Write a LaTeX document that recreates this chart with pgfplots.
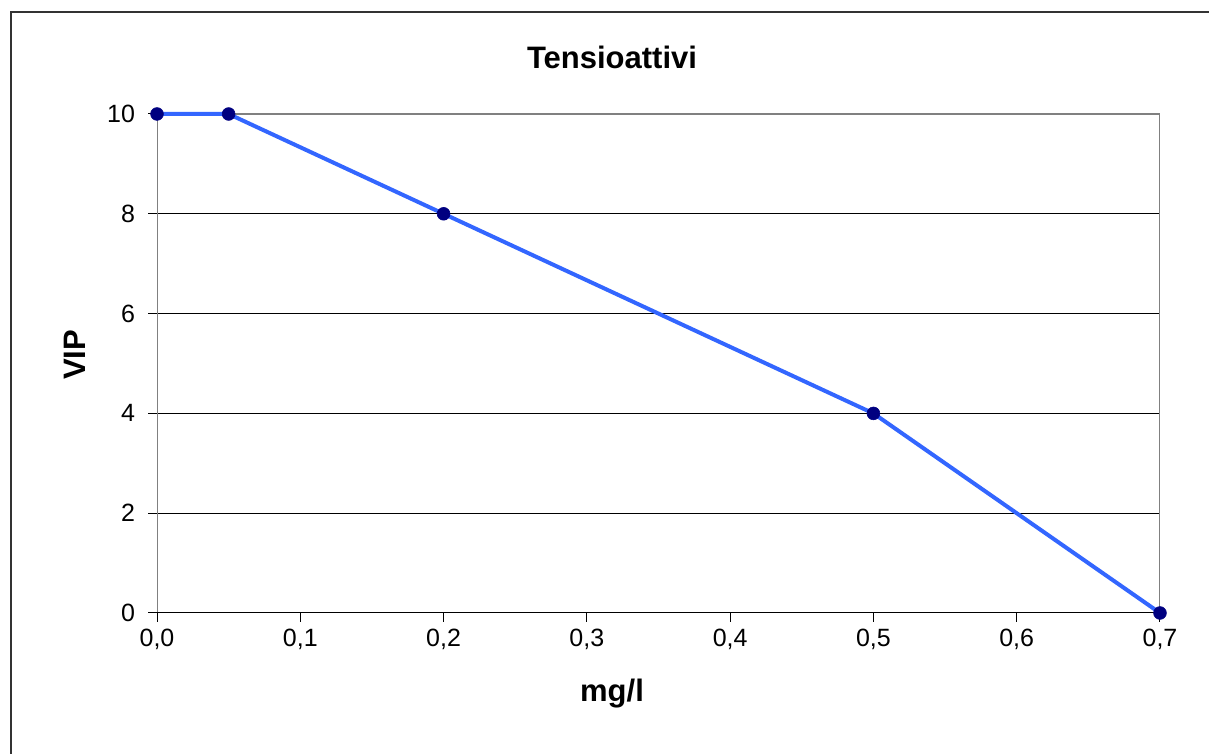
\documentclass[border=0pt]{standalone}
\usepackage{fontspec}
\setmainfont{Liberation Sans}
\usepackage{pgfplots}
\pgfplotsset{compat=1.18}
\definecolor{lineblue}{RGB}{51,102,255}
\definecolor{navy}{RGB}{0,0,128}
\definecolor{framegray}{RGB}{128,128,128}
\begin{document}
\begin{tikzpicture}
% chart area frame (cut off at right and bottom)
\draw[black!80, line width=0.75pt] (5.5pt,0) -- (5.5pt,371pt) -- (604.5pt,371pt);
\begin{axis}[
    set layers,
    at={(78.5pt,70.5pt)}, anchor=south west,
    scale only axis,
    width=501.5pt, height=249.5pt,
    xmin=0, xmax=0.7, ymin=0, ymax=10,
    axis x line*=bottom, axis y line*=left,
    xtick={0,0.1,0.2,0.3,0.4,0.5,0.6,0.7},
    ytick={0,2,4,6,8,10},
    xticklabel style={/pgf/number format/.cd, fixed, fixed zerofill, precision=1, use comma},
    yticklabel style={xshift=-3pt},
    /pgf/number format/assume math mode=true,
    ticklabel style={font=\fontsize{12.5}{14}\selectfont},
    tick align=outside,
    major tick length=4.5pt,
    ytick style={black, line width=0.5pt},
    xtick style={draw=none},
    axis line style={draw=none, -},
    ymajorgrids=true, xmajorgrids=false,
    y grid style={black, line width=0.5pt},
    clip=false,
]
\pgfplotsextra{%
\begin{pgfonlayer}{axis lines}
\draw[framegray, line width=0.5pt] (rel axis cs:0,0) -- (rel axis cs:0,1);
\draw[framegray, line width=0.5pt] (rel axis cs:1,0) -- (rel axis cs:1,1);
\draw[framegray, line width=1.25pt] (rel axis cs:0,1) -- (rel axis cs:1,1);
\draw[black, line width=0.5pt] (rel axis cs:0,0) -- (rel axis cs:1,0);
\foreach \t in {0,0.1,0.2,0.3,0.4,0.5,0.6,0.7}
  \draw[black, line width=0.5pt] (axis cs:\t,0) -- ++(0,-4.5pt);
\end{pgfonlayer}}
\addplot[lineblue, line width=2pt, mark=*, mark size=3.2pt,
    mark options={draw=navy, fill=navy, line width=0.3pt}]
coordinates {
    (0,10) (0.05,10) (0.2,8) (0.5,4) (0.7,0)
};
\end{axis}
\node[font=\bfseries\fontsize{15.5}{18}\selectfont] at (306pt,348.5pt) {Tensioattivi};
\node[font=\bfseries\fontsize{15.5}{18}\selectfont] at (306pt,30pt) {mg/l};
\node[font=\bfseries\fontsize{15.5}{18}\selectfont, rotate=90] at (37.5pt,199.5pt) {VIP};
\pgfresetboundingbox
\path (0,0) rectangle (604.5pt,377pt);
\end{tikzpicture}
\end{document}
